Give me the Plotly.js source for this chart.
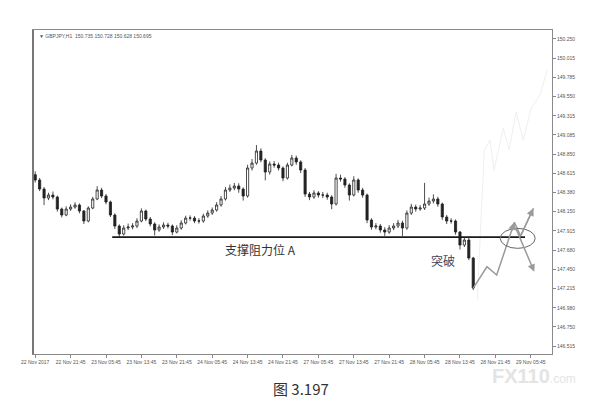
<!DOCTYPE html>
<html>
<head>
<meta charset="utf-8">
<script src="https://cdn.plot.ly/plotly-3.0.1.min.js"></script>
<style>html,body{margin:0;padding:0;background:#fff;}#chart{width:613px;height:414px;}</style>
</head>
<body>
<div id="chart"></div>
<script>
// hourly bar index (0 = 22 Nov 2017 13:45)
const barIndex = [];
const openP = [148.600, 148.535, 148.425, 148.316, 148.352, 148.328, 148.182, 148.109, 148.182, 148.206,
  148.231, 148.158, 148.036, 148.194, 148.304, 148.413, 148.340, 148.267, 148.109, 147.975,
  147.878, 147.951, 147.963, 147.975, 148.036, 148.158, 148.060, 148.000, 147.927, 147.963,
  147.987, 147.975, 147.902, 147.951, 148.012, 148.072, 148.072, 148.036, 148.036, 148.097,
  148.133, 148.170, 148.231, 148.304, 148.413, 148.437, 148.462, 148.425, 148.340, 148.681,
  148.741, 148.887, 148.778, 148.632, 148.729, 148.717, 148.681, 148.559, 148.717, 148.802,
  148.754, 148.656, 148.364, 148.328, 148.377, 148.352, 148.352, 148.328, 148.243, 148.559,
  148.547, 148.474, 148.352, 148.535, 148.413, 148.352, 148.048, 147.963, 147.975, 147.927,
  147.902, 147.951, 147.975, 148.012, 147.951, 148.133, 148.206, 148.182, 148.194, 148.243,
  148.279, 148.304, 148.243, 148.085, 148.036, 148.036, 147.902, 147.744, 147.805, 147.586];
const closeP = [148.535, 148.425, 148.316, 148.352, 148.328, 148.182, 148.109, 148.182, 148.206, 148.231,
  148.158, 148.036, 148.194, 148.304, 148.413, 148.340, 148.267, 148.109, 147.975, 147.878,
  147.951, 147.963, 147.975, 148.036, 148.158, 148.060, 148.000, 147.927, 147.963, 147.987,
  147.975, 147.902, 147.951, 148.012, 148.072, 148.072, 148.036, 148.036, 148.097, 148.133,
  148.170, 148.231, 148.304, 148.413, 148.437, 148.462, 148.425, 148.340, 148.681, 148.741,
  148.887, 148.778, 148.632, 148.729, 148.717, 148.681, 148.559, 148.717, 148.802, 148.754,
  148.656, 148.364, 148.328, 148.377, 148.352, 148.352, 148.328, 148.243, 148.559, 148.547,
  148.474, 148.352, 148.535, 148.413, 148.352, 148.048, 147.963, 147.975, 147.927, 147.902,
  147.951, 147.975, 148.012, 147.951, 148.133, 148.206, 148.182, 148.194, 148.243, 148.279,
  148.304, 148.243, 148.085, 148.036, 148.036, 147.902, 147.744, 147.805, 147.586, 147.221];
const highP = [148.640, 148.560, 148.450, 148.380, 148.395, 148.345, 148.200, 148.215, 148.240, 148.265,
  148.250, 148.170, 148.215, 148.330, 148.460, 148.440, 148.365, 148.285, 148.130, 147.995,
  147.985, 148.005, 148.010, 148.070, 148.190, 148.175, 148.085, 148.020, 147.995, 148.020,
  148.015, 147.995, 147.985, 148.045, 148.100, 148.105, 148.095, 148.070, 148.125, 148.165,
  148.200, 148.265, 148.340, 148.450, 148.480, 148.500, 148.495, 148.445, 148.720, 148.790,
  148.960, 148.920, 148.800, 148.760, 148.765, 148.745, 148.700, 148.745, 148.840, 148.830,
  148.775, 148.680, 148.390, 148.410, 148.400, 148.390, 148.380, 148.350, 148.610, 148.600,
  148.570, 148.495, 148.580, 148.555, 148.440, 148.370, 148.070, 148.010, 148.000, 147.960,
  147.985, 148.010, 148.050, 148.040, 148.165, 148.245, 148.235, 148.230, 148.500, 148.320,
  148.360, 148.330, 148.260, 148.110, 148.070, 148.055, 147.915, 147.840, 147.845, 147.600];
const lowP = [148.505, 148.400, 148.230, 148.290, 148.300, 148.150, 148.080, 148.095, 148.160, 148.185,
  148.130, 148.000, 148.020, 148.180, 148.290, 148.315, 148.240, 148.085, 147.940, 147.842,
  147.860, 147.925, 147.935, 147.950, 148.020, 148.035, 147.970, 147.860, 147.905, 147.940,
  147.945, 147.865, 147.885, 147.930, 147.995, 148.040, 148.010, 148.005, 148.015, 148.075,
  148.110, 148.150, 148.210, 148.285, 148.390, 148.410, 148.380, 148.285, 148.320, 148.650,
  148.720, 148.750, 148.530, 148.600, 148.685, 148.650, 148.520, 148.540, 148.700, 148.720,
  148.620, 148.330, 148.290, 148.305, 148.320, 148.315, 148.295, 148.180, 148.225, 148.515,
  148.440, 148.285, 148.335, 148.380, 148.320, 148.010, 147.930, 147.935, 147.895, 147.855,
  147.880, 147.925, 147.950, 147.855, 147.930, 148.110, 148.150, 148.160, 148.170, 148.220,
  148.250, 148.210, 148.050, 148.000, 148.005, 147.870, 147.690, 147.720, 147.560, 147.197];
for (let i = 0; i < closeP.length; i++) barIndex.push(i);

// x tick labels (every 8 bars)
const xTickVals = [0, 8, 16, 24, 32, 40, 48, 56, 64, 72, 80, 88, 96, 104, 112];
const xTickText = ["22 Nov 2017", "22 Nov 21:45", "23 Nov 05:45", "23 Nov 13:45", "23 Nov 21:45",
  "24 Nov 05:45", "24 Nov 13:45", "24 Nov 21:45", "27 Nov 05:45", "27 Nov 13:45", "27 Nov 21:45",
  "28 Nov 05:45", "28 Nov 13:45", "28 Nov 21:45", "29 Nov 05:45"];
// y tick labels
const yTickVals = [150.250, 150.015, 149.785, 149.550, 149.315, 149.085, 148.850, 148.615, 148.380,
  148.150, 147.915, 147.680, 147.450, 147.215, 146.980, 146.750, 146.515];
const yTickText = ["150.250", "150.015", "149.785", "149.550", "149.315", "149.085", "148.850", "148.615",
  "148.380", "148.150", "147.915", "147.680", "147.450", "147.215", "146.980", "146.750", "146.515"];

// support level A
const supportLevel = 147.840;
const supportFrom = 17.4, supportTo = 110.7;
// hand-drawn projection path (gray)
const projX = [99, 102.1, 104.3, 108.3, 109.7, 112.6];
const projY = [147.221, 147.480, 147.379, 148.020, 147.854, 148.191];
const downArrowX = [108.4, 112.8];
const downArrowY = [147.975, 147.419];
const peakArrowFromX = 107.6, peakArrowFromY = 147.90;
// circle around breakout
const circleX = [105.1, 113.0];
const circleY = [147.704, 147.947];
// faint ghost trace
const ghostX = [99.9, 101.5, 102.8, 103.7, 105.8, 107.1, 108.7, 110.3, 112.1, 114.1, 115.7];
const ghostY = [147.075, 148.900, 149.021, 148.656, 149.167, 148.900, 149.362, 149.021, 149.410, 149.569, 149.873];

const traces = [
  {type: 'scatter', mode: 'lines', x: ghostX, y: ghostY, line: {color: '#efefef', width: 1}, hoverinfo: 'skip'},
  {type: 'candlestick', x: barIndex, open: openP, high: highP, low: lowP, close: closeP,
   increasing: {line: {color: '#222', width: 0.8}, fillcolor: '#ffffff'},
   decreasing: {line: {color: '#222', width: 0.8}, fillcolor: '#222222'},
   whiskerwidth: 0, hoverinfo: 'skip'},
  {type: 'scatter', mode: 'lines', x: [supportFrom, supportTo], y: [supportLevel, supportLevel],
   line: {color: '#1a1a1a', width: 1.6}, hoverinfo: 'skip'},
  {type: 'scatter', mode: 'lines', x: projX, y: projY, line: {color: '#9a9a9a', width: 1.5}, hoverinfo: 'skip'}
];

const n = projX.length;
const layout = {
  width: 613, height: 414,
  margin: {l: 33, r: 61, t: 30, b: 60},
  paper_bgcolor: '#ffffff', plot_bgcolor: '#ffffff',
  showlegend: false,
  font: {family: 'Liberation Sans, Arial, sans-serif', color: '#555'},
  xaxis: {
    range: [-0.5, 116.8], rangeslider: {visible: false},
    tickmode: 'array', tickvals: xTickVals, ticktext: xTickText,
    tickfont: {size: 5, color: '#555'}, ticks: 'outside', ticklen: 3, tickcolor: '#888',
    showgrid: false, zeroline: false, showline: true, linecolor: '#8a8a8a', linewidth: 1, mirror: true
  },
  yaxis: {
    range: [146.419, 150.359], side: 'right',
    tickmode: 'array', tickvals: yTickVals, ticktext: yTickText,
    tickfont: {size: 5, color: '#555'}, ticks: 'outside', ticklen: 3, tickcolor: '#888',
    showgrid: false, zeroline: false, showline: true, linecolor: '#8a8a8a', linewidth: 1, mirror: true
  },
  shapes: [
    {type: 'circle', xref: 'x', yref: 'y', x0: circleX[0], x1: circleX[1], y0: circleY[0], y1: circleY[1],
     line: {color: '#666', width: 1}},
    {type: 'line', xref: 'paper', yref: 'paper', x0: 0, x1: 0, y0: 0, y1: 1, line: {color: '#777', width: 2}}
  ],
  annotations: [
    {xref: 'x', yref: 'y', axref: 'x', ayref: 'y', x: projX[n - 1], y: projY[n - 1], ax: projX[n - 2], ay: projY[n - 2],
     showarrow: true, arrowhead: 2, arrowsize: 1, arrowwidth: 1.5, arrowcolor: '#9a9a9a', text: ''},
    {xref: 'x', yref: 'y', axref: 'x', ayref: 'y', x: projX[3], y: projY[3], ax: peakArrowFromX, ay: peakArrowFromY,
     showarrow: true, arrowhead: 2, arrowsize: 1, arrowwidth: 1.5, arrowcolor: '#9a9a9a', text: ''},
    {xref: 'x', yref: 'y', axref: 'x', ayref: 'y', x: downArrowX[1], y: downArrowY[1], ax: downArrowX[0], ay: downArrowY[0],
     showarrow: true, arrowhead: 2, arrowsize: 1, arrowwidth: 1.5, arrowcolor: '#9a9a9a', text: ''},
    {xref: 'x', yref: 'y', x: 51, y: 147.69, text: '支撑阻力位 A', showarrow: false,
     font: {family: 'Noto Sans CJK SC', size: 12, color: '#333'}},
    {xref: 'x', yref: 'y', x: 92.1, y: 147.55, text: '突破', showarrow: false,
     font: {family: 'Noto Sans CJK SC', size: 12, color: '#3a4560'}},
    {xref: 'paper', yref: 'paper', x: 0.008, y: 0.998, xanchor: 'left', yanchor: 'top', showarrow: false,
     text: '▼ GBPJPY,H1  150.735 150.728 150.628 150.695', font: {size: 5, color: '#555'}},
    {xref: 'paper', yref: 'paper', x: 0.516, y: -0.108, xanchor: 'center', yanchor: 'middle', showarrow: false,
     text: '图 3.197', font: {family: 'Noto Sans CJK SC', size: 15, color: '#333'}},
    {xref: 'paper', yref: 'paper', x: 0.965, y: -0.068, xanchor: 'center', yanchor: 'middle', showarrow: false,
     text: '<b><span style="font-size:20px">FX110</span></b>.com', font: {family: 'Liberation Sans', size: 12, color: '#e4e4e4'}}
  ]
};

Plotly.newPlot('chart', traces, layout, {displayModeBar: false, staticPlot: true});
</script>
</body>
</html>
